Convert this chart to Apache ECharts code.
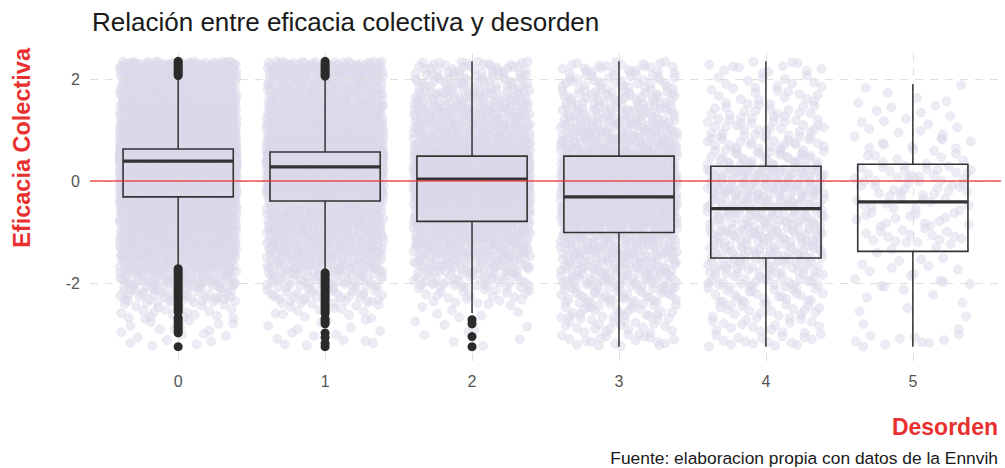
<!DOCTYPE html>
<html>
<head>
<meta charset="utf-8">
<script src="https://cdn.jsdelivr.net/npm/echarts@6/dist/echarts.min.js"></script>
<style>
  html, body { margin: 0; padding: 0; background: #ffffff; }
  #chart { width: 1005px; height: 468px; }
</style>
</head>
<body>
<div id="chart"></div>
<script>
// Disorder level (x) and collective efficacy summary per level
const categories = ['0', '1', '2', '3', '4', '5'];
const whiskerLow  = [-1.68, -1.76, -2.59, -3.25, -3.25, -3.25];
const boxQ1       = [-0.31, -0.39, -0.79, -1.01, -1.51, -1.38];
const boxMedian   = [0.39, 0.28, 0.04, -0.31, -0.54, -0.41];
const boxQ3       = [0.63, 0.57, 0.49, 0.49, 0.29, 0.33];
const whiskerHigh = [2.03, 2.01, 2.35, 2.35, 2.35, 1.90];

// Outlying observations beyond the whiskers
const outliers0 = [2.07, 2.11, 2.15, 2.19, 2.23, 2.27, 2.31, 2.35,
  -1.72, -1.77, -1.82, -1.87, -1.92, -1.97, -2.02, -2.07, -2.12, -2.17, -2.22, -2.27,
  -2.32, -2.37, -2.42, -2.47, -2.52, -2.57, -2.68, -2.73, -2.78, -2.83, -2.88, -2.93,
  -2.98, -3.25];
const outliers1 = [2.06, 2.10, 2.14, 2.18, 2.22, 2.26, 2.30, 2.35,
  -1.80, -1.85, -1.90, -1.95, -2.00, -2.05, -2.10, -2.15, -2.20, -2.25, -2.30, -2.35,
  -2.40, -2.45, -2.50, -2.55, -2.60, -2.70, -2.75, -2.80, -2.98, -3.07, -3.18, -3.25];
const outliers2 = [-2.72, -2.80, -3.05, -3.25];
const outliers3 = [];
const outliers4 = [];
const outliers5 = [];

// Observation counts per efficacy band (bands 0.3 wide, starting at these values)
const bandStart = [-3.3, -3.0, -2.7, -2.4, -2.1, -1.8, -1.5, -1.2, -0.9, -0.6,
                   -0.3, 0.0, 0.3, 0.6, 0.9, 1.2, 1.5, 1.8, 2.1];
const counts0 = [8, 12, 20, 45, 70, 100, 150, 170, 190, 210, 420, 480, 975, 325, 220, 190, 150, 120, 120];
const counts1 = [8, 8, 14, 35, 50, 70, 90, 100, 110, 96, 260, 300, 500, 200, 140, 120, 100, 90, 90];
const counts2 = [4, 5, 8, 20, 40, 60, 80, 100, 120, 170, 190, 220, 200, 110, 90, 80, 60, 45, 35];
const counts3 = [18, 22, 28, 38, 50, 58, 65, 78, 135, 135, 140, 125, 110, 78, 65, 52, 42, 32, 24];
const counts4 = [16, 16, 20, 25, 32, 38, 45, 48, 45, 50, 56, 56, 35, 30, 25, 20, 15, 12, 12];
const counts5 = [10, 2, 3, 4, 8, 8, 5, 14, 14, 12, 18, 20, 10, 10, 8, 6, 4, 2, 0];

const yTicks = [-2, 0, 2];

const outlierSets = [outliers0, outliers1, outliers2, outliers3, outliers4, outliers5];
const countSets = [counts0, counts1, counts2, counts3, counts4, counts5];
const bandWidth = 0.3;
const jitterWidth = 0.4;

// Halton radical inverse: spreads a band's observations evenly over its strip
function radicalInverse(i, base) {
  let f = 1, r = 0;
  while (i > 0) { f /= base; r += f * (i % base); i = Math.floor(i / base); }
  return r;
}

const jitterPoints = [];
countSets.forEach((counts, c) => {
  const lowest = Math.min(whiskerLow[c], ...outlierSets[c]);
  const highest = Math.max(whiskerHigh[c], ...outlierSets[c]);
  counts.forEach((n, j) => {
    const lo = Math.max(bandStart[j], lowest);
    const hi = Math.min(bandStart[j] + bandWidth, highest);
    if (hi <= lo) return;
    const start = 17 + c * 4099 + j * 1031;
    for (let i = 0; i < n; i++) {
      const u = radicalInverse(start + i, 2);
      const v = radicalInverse(start + i, 3);
      jitterPoints.push([c + (2 * u - 1) * jitterWidth, lo + v * (hi - lo)]);
    }
  });
});

const boxData = categories.map((_, c) =>
  [c, whiskerLow[c], boxQ1[c], boxMedian[c], boxQ3[c], whiskerHigh[c]]);

const outlierData = [];
outlierSets.forEach((vals, c) => vals.forEach(v => outlierData.push([c, v])));

const FONT = '"Liberation Sans", Arial, Helvetica, sans-serif';
const gridDash = { color: '#dedede', width: 1.1, type: [8, 7] };

const chart = echarts.init(document.getElementById('chart'), null, { renderer: 'svg' });
chart.setOption({
  animation: false,
  backgroundColor: '#ffffff',
  title: {
    text: 'Relación entre eficacia colectiva y desorden',
    left: 92, top: 9, padding: 0,
    textStyle: { fontFamily: FONT, fontSize: 26, fontWeight: 'normal', color: '#1a1a1a' }
  },
  grid: { left: 90, right: 4, top: 47, bottom: 107, containLabel: false },
  xAxis: {
    type: 'value', min: -0.6, max: 5.6,
    axisLine: { show: false }, axisTick: { show: false }, splitLine: { show: false },
    axisLabel: {
      customValues: [0, 1, 2, 3, 4, 5],
      margin: 12, color: '#555555', fontSize: 16, fontFamily: FONT,
      formatter: v => (Number.isInteger(v) && categories[v] !== undefined) ? categories[v] : ''
    }
  },
  yAxis: {
    type: 'value', min: -3.53, max: 2.63,
    axisLine: { show: false }, axisTick: { show: false }, splitLine: { show: false },
    axisLabel: {
      customValues: yTicks,
      margin: 10, color: '#555555', fontSize: 16, fontFamily: FONT,
      formatter: v => yTicks.includes(v) ? String(v) : ''
    }
  },
  series: [
    {
      // panel grid
      type: 'scatter', data: [], z: 0, silent: true,
      markLine: {
        silent: true, symbol: 'none', animation: false, z: 0,
        label: { show: false },
        lineStyle: gridDash,
        data: yTicks.map(v => ({ yAxis: v })).concat(categories.map((_, i) => ({ xAxis: i })))
      }
    },
    {
      type: 'scatter', name: 'observaciones', data: jitterPoints, z: 1,
      silent: true, progressive: 0, large: false,
      symbol: 'circle', symbolSize: 9,
      itemStyle: {
        color: 'rgba(218,218,234,0.5)',
        borderColor: 'rgba(218,218,234,0.5)',
        borderWidth: 0.8,
        opacity: 1
      }
    },
    {
      type: 'custom', name: 'caja', data: boxData, z: 2, silent: true,
      encode: { x: 0, y: [1, 2, 3, 4, 5] },
      renderItem: (params, api) => {
        const x = api.value(0);
        const lo = api.coord([x, api.value(1)]);
        const q1 = api.coord([x, api.value(2)]);
        const md = api.coord([x, api.value(3)]);
        const q3 = api.coord([x, api.value(4)]);
        const hi = api.coord([x, api.value(5)]);
        const half = api.size([0.75, 0])[0] / 2;
        const cx = lo[0];
        const stroke = '#333333';
        return {
          type: 'group',
          children: [
            { type: 'line', shape: { x1: cx, y1: hi[1], x2: cx, y2: q3[1] }, style: { stroke, lineWidth: 1.5 } },
            { type: 'line', shape: { x1: cx, y1: q1[1], x2: cx, y2: lo[1] }, style: { stroke, lineWidth: 1.5 } },
            { type: 'rect', shape: { x: cx - half, y: q3[1], width: 2 * half, height: q1[1] - q3[1] },
              style: { fill: 'none', stroke, lineWidth: 1.6 } },
            { type: 'line', shape: { x1: cx - half, y1: md[1], x2: cx + half, y2: md[1] },
              style: { stroke, lineWidth: 3.2 } }
          ]
        };
      }
    },
    {
      type: 'scatter', name: 'atípicos', data: outlierData, z: 3, silent: true,
      symbol: 'circle', symbolSize: 9,
      itemStyle: { color: '#2b2b2b', opacity: 1 },
      markLine: {
        silent: true, symbol: 'none', animation: false,
        label: { show: false },
        lineStyle: { color: 'rgba(235,40,40,0.6)', width: 1.8, type: 'solid' },
        data: [{ yAxis: 0 }]
      }
    }
  ],
  graphic: [
    {
      type: 'text', x: 22, y: 48, rotation: Math.PI / 2,
      style: { text: 'Eficacia Colectiva', fill: '#E8312F', font: 'bold 23.5px ' + FONT,
               textAlign: 'right', textVerticalAlign: 'middle' }
    },
    {
      type: 'text', x: 998, y: 427,
      style: { text: 'Desorden', fill: '#E8312F', font: 'bold 23px ' + FONT,
               textAlign: 'right', textVerticalAlign: 'middle' }
    },
    {
      type: 'text', x: 998, y: 458,
      style: { text: 'Fuente: elaboracion propia con datos de la Ennvih', fill: '#1a1a1a',
               font: '17.4px ' + FONT, textAlign: 'right', textVerticalAlign: 'middle' }
    }
  ]
});
</script>
</body>
</html>
